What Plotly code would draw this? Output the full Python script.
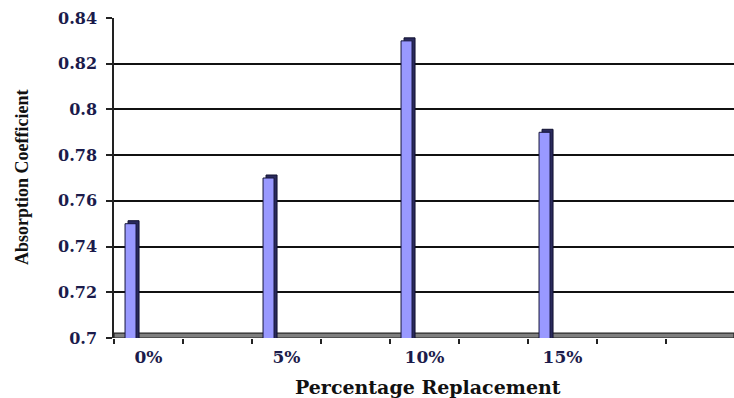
import plotly.graph_objects as go

categories = ["0%", " ", "5%", "  ", "10%", "   ", "15%", "    ", "     "]
bar_cats = ["0%", "5%", "10%", "15%"]
values = [0.75, 0.77, 0.83, 0.79]
y_ticks = [0.7, 0.72, 0.74, 0.76, 0.78, 0.8, 0.82, 0.84]
y_ticktext = ["0.7", "0.72", "0.74", "0.76", "0.78", "0.8", "0.82", "0.84"]

W, H = 734, 398
ML, MR, MT, MB = 114, 0, 18, 60
slot_px = 69.0
bar_w = 11 / slot_px
bar_off = -0.34
depth_px = 3
depth_dx = depth_px / slot_px
depth_dy = depth_px * (0.14 / (H - MT - MB))

fig = go.Figure()
# 3D depth (side/top) shadow
fig.add_trace(go.Bar(
    x=bar_cats, y=[v + depth_dy for v in values],
    width=bar_w, offset=bar_off + depth_dx,
    marker=dict(color="#2a2a5c", line=dict(color="#111130", width=1)),
    hoverinfo="skip", showlegend=False,
))
# front face
fig.add_trace(go.Bar(
    x=bar_cats, y=values,
    width=bar_w, offset=bar_off,
    marker=dict(color="#9999FF", line=dict(color="#15153a", width=1)),
    showlegend=False,
))

# grey floor
fig.add_shape(type="rect", xref="paper", yref="y", x0=0, x1=1,
              y0=0.7, y1=0.7 + depth_dy * 1.6, layer="between",
              fillcolor="#7f7f7f", line=dict(color="#222222", width=1.2))

fig.update_layout(
    width=W, height=H,
    margin=dict(l=ML, r=MR, t=MT, b=MB),
    paper_bgcolor="white", plot_bgcolor="white",
    barmode="overlay",
    xaxis=dict(
        type="category", categoryorder="array", categoryarray=categories,
        range=[-0.5, -0.5 + (W - ML - MR) / slot_px],
        tickson="boundaries", ticks="outside", ticklen=5, tickwidth=1.5,
        tickcolor="#222", showgrid=False, showline=False,
        tickfont=dict(family="DejaVu Serif", size=17, color="#1b1b4b", weight="bold"),
        ticklabelstandoff=7,
    ),
    yaxis=dict(
        range=[0.7, 0.84], tickvals=y_ticks, ticktext=y_ticktext,
        ticks="outside", ticklen=6, tickwidth=1.5, tickcolor="#222",
        showline=True, linecolor="#222", linewidth=1.5,
        showgrid=True, gridcolor="#111111", gridwidth=1.5,
        zeroline=False,
        tickfont=dict(family="DejaVu Serif", size=16, color="#1b1b4b", weight="bold"),
        ticklabelstandoff=6,
    ),
    annotations=[
        dict(text="Absorption Coefficient", xref="paper", yref="paper",
             x=-(ML - 22) / (W - ML - MR), y=0.5, textangle=-90,
             showarrow=False, xanchor="center", yanchor="middle",
             font=dict(family="Liberation Serif", size=18, color="#111", weight="bold")),
        dict(text="Percentage Replacement", xref="paper", yref="paper",
             x=(428 - ML) / (W - ML - MR), y=-(387 - (H - MB)) / (H - MT - MB),
             showarrow=False, xanchor="center", yanchor="middle",
             font=dict(family="DejaVu Serif", size=19, color="#111", weight="bold")),
    ],
)

fig.write_html("out.html")
